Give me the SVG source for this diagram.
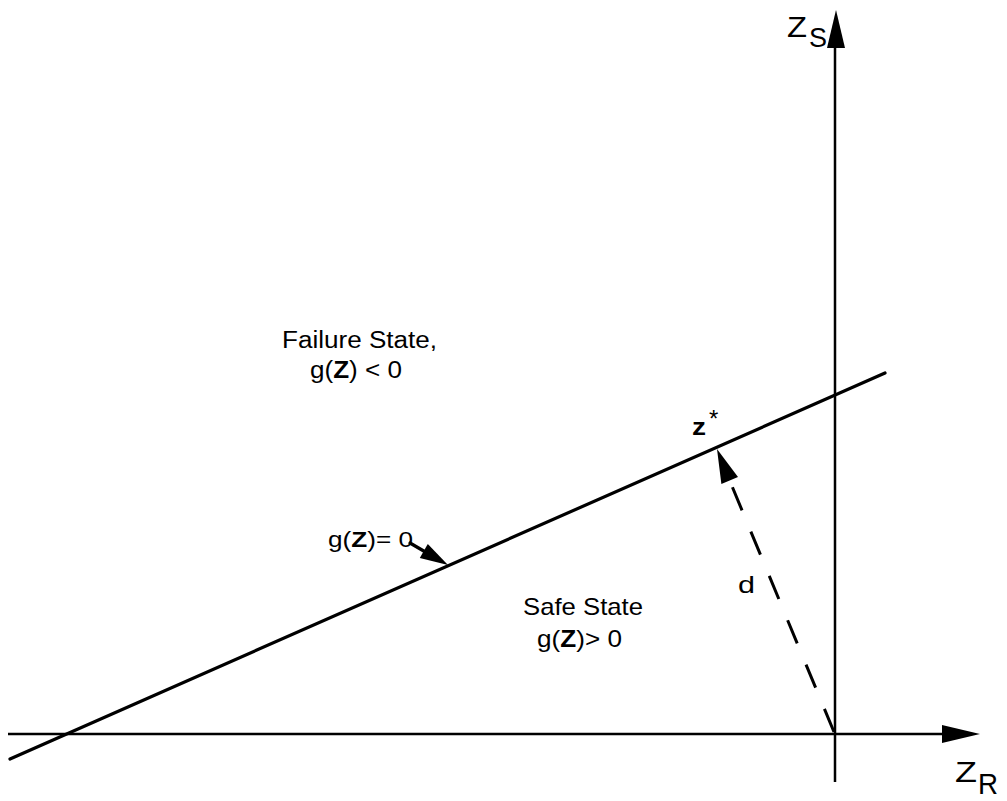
<svg xmlns="http://www.w3.org/2000/svg" width="1007" height="801" viewBox="0 0 1007 801">
<style>
text{font-family:"Liberation Sans",Arial,sans-serif;fill:#000}
.ax{stroke:#000;stroke-width:2.5;fill:none}
.ln{stroke:#000;stroke-width:3.2;fill:none;stroke-linecap:round}
.ds{stroke:#000;stroke-width:3;fill:none;stroke-dasharray:25 23}
.hd{fill:#000;stroke:none}
.b{font-weight:bold}
</style>
<rect width="1007" height="801" fill="#fff"/>
<g id="connectors">
<line class="ax" x1="8" y1="734" x2="950" y2="734"/>
<polygon class="hd" points="980,734 942,725 942,743"/>
<line class="ax" x1="835" y1="782" x2="835" y2="40"/>
<polygon class="hd" points="836,10 827,48 845,48"/>
<line class="ln" x1="10" y1="759" x2="885" y2="373"/>
<path class="ds" d="M834,732 L729.7,480.6"/>
<polygon class="hd" points="717,449 738,477 721.4,484"/>
<line class="ln" x1="410" y1="543" x2="428" y2="553.5"/>
<polygon class="hd" points="448,565 419.8,557.9 427.8,544.1"/>
</g>
<g id="axis-zs">
<text x="787" y="37" font-size="29" textLength="20" lengthAdjust="spacingAndGlyphs">Z</text>
<text x="809" y="47" font-size="27" textLength="18" lengthAdjust="spacingAndGlyphs">S</text>
</g>
<g id="axis-zr">
<text x="955" y="782" font-size="29" textLength="22" lengthAdjust="spacingAndGlyphs">Z</text>
<text x="978" y="794" font-size="30" textLength="20" lengthAdjust="spacingAndGlyphs">R</text>
</g>
<g id="failure-state">
<text x="282" y="348" font-size="23" textLength="155" lengthAdjust="spacingAndGlyphs">Failure State,</text>
<text x="310" y="378" font-size="23" textLength="92" lengthAdjust="spacingAndGlyphs">g(<tspan class="b">Z</tspan>) &lt; 0</text>
</g>
<g id="design-point">
<text x="692" y="435" font-size="24" class="b" textLength="14" lengthAdjust="spacingAndGlyphs">z</text>
<text x="709" y="427" font-size="24">*</text>
</g>
<g id="limit-state-label">
<text x="328" y="547" font-size="22" textLength="85" lengthAdjust="spacingAndGlyphs">g(<tspan class="b">Z</tspan>)= 0</text>
</g>
<g id="safe-state">
<text x="523" y="615" font-size="24" textLength="120" lengthAdjust="spacingAndGlyphs">Safe State</text>
<text x="537" y="647" font-size="24" textLength="85" lengthAdjust="spacingAndGlyphs">g(<tspan class="b">Z</tspan>)&gt; 0</text>
</g>
<g id="distance">
<text x="738" y="593" font-size="24" textLength="17" lengthAdjust="spacingAndGlyphs">d</text>
</g>
</svg>
